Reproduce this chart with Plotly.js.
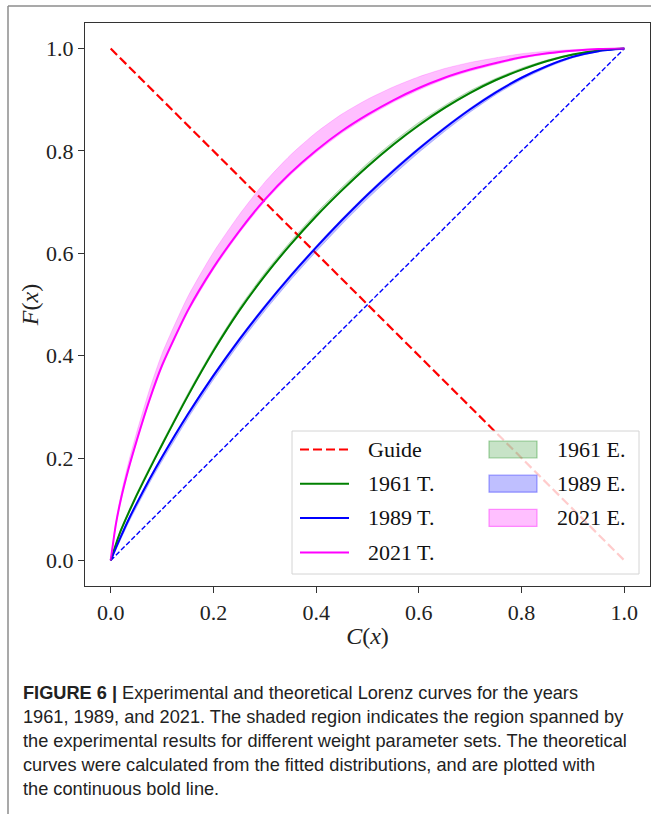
<!DOCTYPE html>
<html>
<head>
<meta charset="utf-8">
<script src="https://cdn.plot.ly/plotly-3.0.1.min.js"></script>
<style>html,body{margin:0;padding:0;background:#fff;overflow:hidden}</style>
</head>
<body>
<div id="chart" style="width:651px;height:814px"></div>
<script>
// ---- data ----
const xGrid = [0, 0.01, 0.02, 0.035, 0.05, 0.075, 0.1, 0.15, 0.2, 0.25, 0.3, 0.35, 0.4, 0.45, 0.5,
               0.55, 0.6, 0.65, 0.7, 0.75, 0.8, 0.85, 0.9, 0.95, 1.0];

const t1961 = [0, 0.031, 0.059, 0.0935, 0.126, 0.177, 0.226, 0.321, 0.409, 0.4875, 0.556, 0.617, 0.6725,
               0.723, 0.7698, 0.8123, 0.8503, 0.8841, 0.9136, 0.9386, 0.9589, 0.9759, 0.9884, 0.9964, 1];
const t1989 = [0, 0.024, 0.047, 0.080, 0.110, 0.1575, 0.202, 0.285, 0.361, 0.431, 0.4955, 0.5555, 0.6115,
               0.6645, 0.7145, 0.761, 0.8045, 0.8445, 0.8815, 0.9145, 0.943, 0.966, 0.984, 0.995, 1];
const t2021 = [0, 0.07, 0.12, 0.18, 0.232, 0.312, 0.381, 0.488, 0.572, 0.643, 0.705, 0.757, 0.801,
               0.839, 0.871, 0.899, 0.923, 0.943, 0.959, 0.972, 0.983, 0.991, 0.996, 0.999, 1];

const e1961Upper = [0, 0.033, 0.062, 0.097, 0.130, 0.181, 0.230, 0.326, 0.414, 0.493, 0.562, 0.623, 0.679,
                    0.729, 0.776, 0.818, 0.856, 0.889, 0.918, 0.942, 0.962, 0.978, 0.990, 0.997, 1];
const e1961Lower = [0, 0.030, 0.057, 0.0915, 0.124, 0.175, 0.224, 0.319, 0.407, 0.4855, 0.554, 0.615, 0.6705,
                    0.721, 0.7678, 0.8103, 0.8483, 0.8821, 0.9118, 0.937, 0.9575, 0.9748, 0.9876, 0.996, 1];
const e1989Upper = [0, 0.025, 0.049, 0.082, 0.112, 0.160, 0.205, 0.288, 0.364, 0.434, 0.4985, 0.5585, 0.6145,
                    0.6675, 0.7175, 0.764, 0.807, 0.847, 0.884, 0.917, 0.945, 0.967, 0.985, 0.996, 1];
const e1989Lower = [0, 0.021, 0.042, 0.074, 0.103, 0.150, 0.194, 0.277, 0.353, 0.423, 0.4875, 0.5475, 0.6035,
                    0.6565, 0.7065, 0.753, 0.797, 0.838, 0.876, 0.910, 0.939, 0.963, 0.982, 0.994, 1];
const e2021Upper = [0, 0.076, 0.129, 0.193, 0.248, 0.332, 0.404, 0.515, 0.602, 0.675, 0.739, 0.792, 0.836,
                    0.872, 0.901, 0.925, 0.945, 0.961, 0.973, 0.982, 0.990, 0.995, 0.998, 1.0, 1];
const e2021Lower = [0, 0.067, 0.116, 0.176, 0.228, 0.308, 0.377, 0.484, 0.568, 0.639, 0.701, 0.753, 0.797,
                    0.835, 0.867, 0.895, 0.919, 0.94, 0.956, 0.969, 0.981, 0.989, 0.995, 0.998, 1];

const guideX = [0, 1];
const guideY = [1, 0];
const equalX = [0, 1];
const equalY = [0, 1];

const tickVals = [0, 0.2, 0.4, 0.6, 0.8, 1.0];
const tickText = ['0.0', '0.2', '0.4', '0.6', '0.8', '1.0'];

const legendLines = ['Guide', '1961 T.', '1989 T.', '2021 T.'];
const legendPatches = ['1961 E.', '1989 E.', '2021 E.'];

const captionLines = [
  '<b>FIGURE 6 |</b> Experimental and theoretical Lorenz curves for the years',
  '1961, 1989, and 2021. The shaded region indicates the region spanned by',
  'the experimental results for different weight parameter sets. The theoretical',
  'curves were calculated from the fitted distributions, and are plotted with',
  'the continuous bold line.'
];

// ---- styles ----
const SERIF = 'Liberation Serif, Times New Roman, serif';
const SANS = 'Liberation Sans, Arial, sans-serif';
const C = {
  guide: 'rgb(255,0,0)', equal: 'rgb(0,0,255)',
  g: 'rgb(0,128,0)', b: 'rgb(0,0,255)', m: 'rgb(255,0,255)',
  gFill: 'rgba(0,128,0,0.22)', bFill: 'rgba(0,0,255,0.25)', mFill: 'rgba(255,0,255,0.25)',
  gEdge: 'rgba(0,128,0,0.3)', bEdge: 'rgba(0,0,255,0.3)', mEdge: 'rgba(255,0,255,0.3)'
};
const GUIDE_LINE = {color: C.guide, width: 2.2, dash: '9px,4px'};

// layout geometry (pixels)
const W = 651, H = 814, ML = 85, MR = 1, MT = 23, MB = 228;
const PW = W - ML - MR, PH = H - MT - MB;
const PX = p => (p - ML) / PW;
const PY = p => (H - MB - p) / PH;

const SPL = {shape: 'spline', smoothing: 0.6};

function band(x, lo, hi, fill, edge, name) {
  return [
    {x: x, y: lo, type: 'scatter', mode: 'lines', line: Object.assign({width: 0.6, color: edge}, SPL),
     hoverinfo: 'skip', showlegend: false},
    {x: x, y: hi, type: 'scatter', mode: 'lines', fill: 'tonexty', fillcolor: fill, name: name,
     line: Object.assign({width: 0.6, color: edge}, SPL), showlegend: false}
  ];
}

const traces = [
  {x: guideX, y: guideY, type: 'scatter', mode: 'lines', name: 'Guide',
   line: GUIDE_LINE, showlegend: false},
  {x: equalX, y: equalY, type: 'scatter', mode: 'lines', name: 'Equality',
   line: {color: C.equal, width: 1.4, dash: '5px,2.3px'}, showlegend: false},
  {x: xGrid, y: t1961, type: 'scatter', mode: 'lines', name: '1961 T.',
   line: Object.assign({color: C.g, width: 2}, SPL), showlegend: false},
  {x: xGrid, y: t1989, type: 'scatter', mode: 'lines', name: '1989 T.',
   line: Object.assign({color: C.b, width: 2}, SPL), showlegend: false},
  {x: xGrid, y: t2021, type: 'scatter', mode: 'lines', name: '2021 T.',
   line: Object.assign({color: C.m, width: 2}, SPL), showlegend: false},
  ...band(xGrid, e1961Lower, e1961Upper, C.gFill, C.gEdge, '1961 E.'),
  ...band(xGrid, e1989Lower, e1989Upper, C.bFill, C.bEdge, '1989 E.'),
  ...band(xGrid, e2021Lower, e2021Upper, C.mFill, C.mEdge, '2021 E.')
];

const shapes = [];
const annotations = [];

// outer figure frame
shapes.push({type: 'line', xref: 'paper', yref: 'paper', x0: PX(8), x1: PX(8), y0: PY(6), y1: PY(H + 5),
             line: {color: '#8c8c8c', width: 1.5}});
shapes.push({type: 'line', xref: 'paper', yref: 'paper', x0: PX(8), x1: PX(W + 5), y0: PY(6), y1: PY(6),
             line: {color: '#8c8c8c', width: 1.5}});

// legend box
shapes.push({type: 'rect', xref: 'paper', yref: 'paper', layer: 'above',
             x0: PX(292), x1: PX(639), y0: PY(574), y1: PY(431),
             fillcolor: 'rgba(255,255,255,0.8)', line: {color: '#d4d4d4', width: 1}});

const rowY = [449.5, 483.7, 517.9, 552.6];
const lineStyles = [
  GUIDE_LINE,
  {color: C.g, width: 2}, {color: C.b, width: 2}, {color: C.m, width: 2}
];
legendLines.forEach((t, i) => {
  shapes.push({type: 'line', xref: 'paper', yref: 'paper', layer: 'above',
               x0: PX(300), x1: PX(349), y0: PY(rowY[i]), y1: PY(rowY[i]), line: lineStyles[i]});
  annotations.push({text: t, xref: 'paper', yref: 'paper', x: PX(366), y: PY(rowY[i]),
                    xanchor: 'left', yanchor: 'middle', showarrow: false,
                    font: {family: SERIF, size: 22, color: '#111'}});
});
const patchFill = [C.gFill, C.bFill, C.mFill];
const patchEdge = ['rgba(0,128,0,0.35)', 'rgba(0,0,255,0.35)', 'rgba(255,0,255,0.4)'];
legendPatches.forEach((t, i) => {
  shapes.push({type: 'rect', xref: 'paper', yref: 'paper', layer: 'above',
               x0: PX(489), x1: PX(537), y0: PY(rowY[i] + 8.5), y1: PY(rowY[i] - 8.5),
               fillcolor: patchFill[i], line: {color: patchEdge[i], width: 1.2}});
  annotations.push({text: t, xref: 'paper', yref: 'paper', x: PX(555), y: PY(rowY[i]),
                    xanchor: 'left', yanchor: 'middle', showarrow: false,
                    font: {family: SERIF, size: 22, color: '#111'}});
});

// caption
const capY = [693, 717, 741, 765, 789];
captionLines.forEach((t, i) => {
  annotations.push({text: t, xref: 'paper', yref: 'paper', x: PX(21), y: PY(capY[i]),
                    xanchor: 'left', yanchor: 'middle', showarrow: false,
                    font: {family: SANS, size: 18.2, color: '#222'}});
});

const axisCommon = {
  range: [-0.05, 1.05], tickvals: tickVals, ticktext: tickText,
  ticks: 'outside', ticklen: 6, tickwidth: 1, tickcolor: '#333',
  showline: true, linecolor: '#333', linewidth: 1.2, mirror: true,
  showgrid: false, zeroline: false, fixedrange: true,
  tickfont: {family: SERIF, size: 22, color: '#222'}
};

const layout = {
  width: W, height: H,
  margin: {l: ML, r: MR, t: MT, b: MB, pad: 0},
  paper_bgcolor: '#fff', plot_bgcolor: '#fff',
  showlegend: false,
  xaxis: Object.assign({}, axisCommon, {
    title: {text: '<i>C</i>(<i>x</i>)', font: {family: SERIF, size: 24, color: '#222'}, standoff: 3}
  }),
  yaxis: Object.assign({}, axisCommon, {
    title: {text: '<i>F</i>(<i>x</i>)', font: {family: SERIF, size: 24, color: '#222'}, standoff: 0}
  }),
  shapes: shapes,
  annotations: annotations
};

Plotly.newPlot('chart', traces, layout, {displayModeBar: false, staticPlot: true});
</script>
</body>
</html>
